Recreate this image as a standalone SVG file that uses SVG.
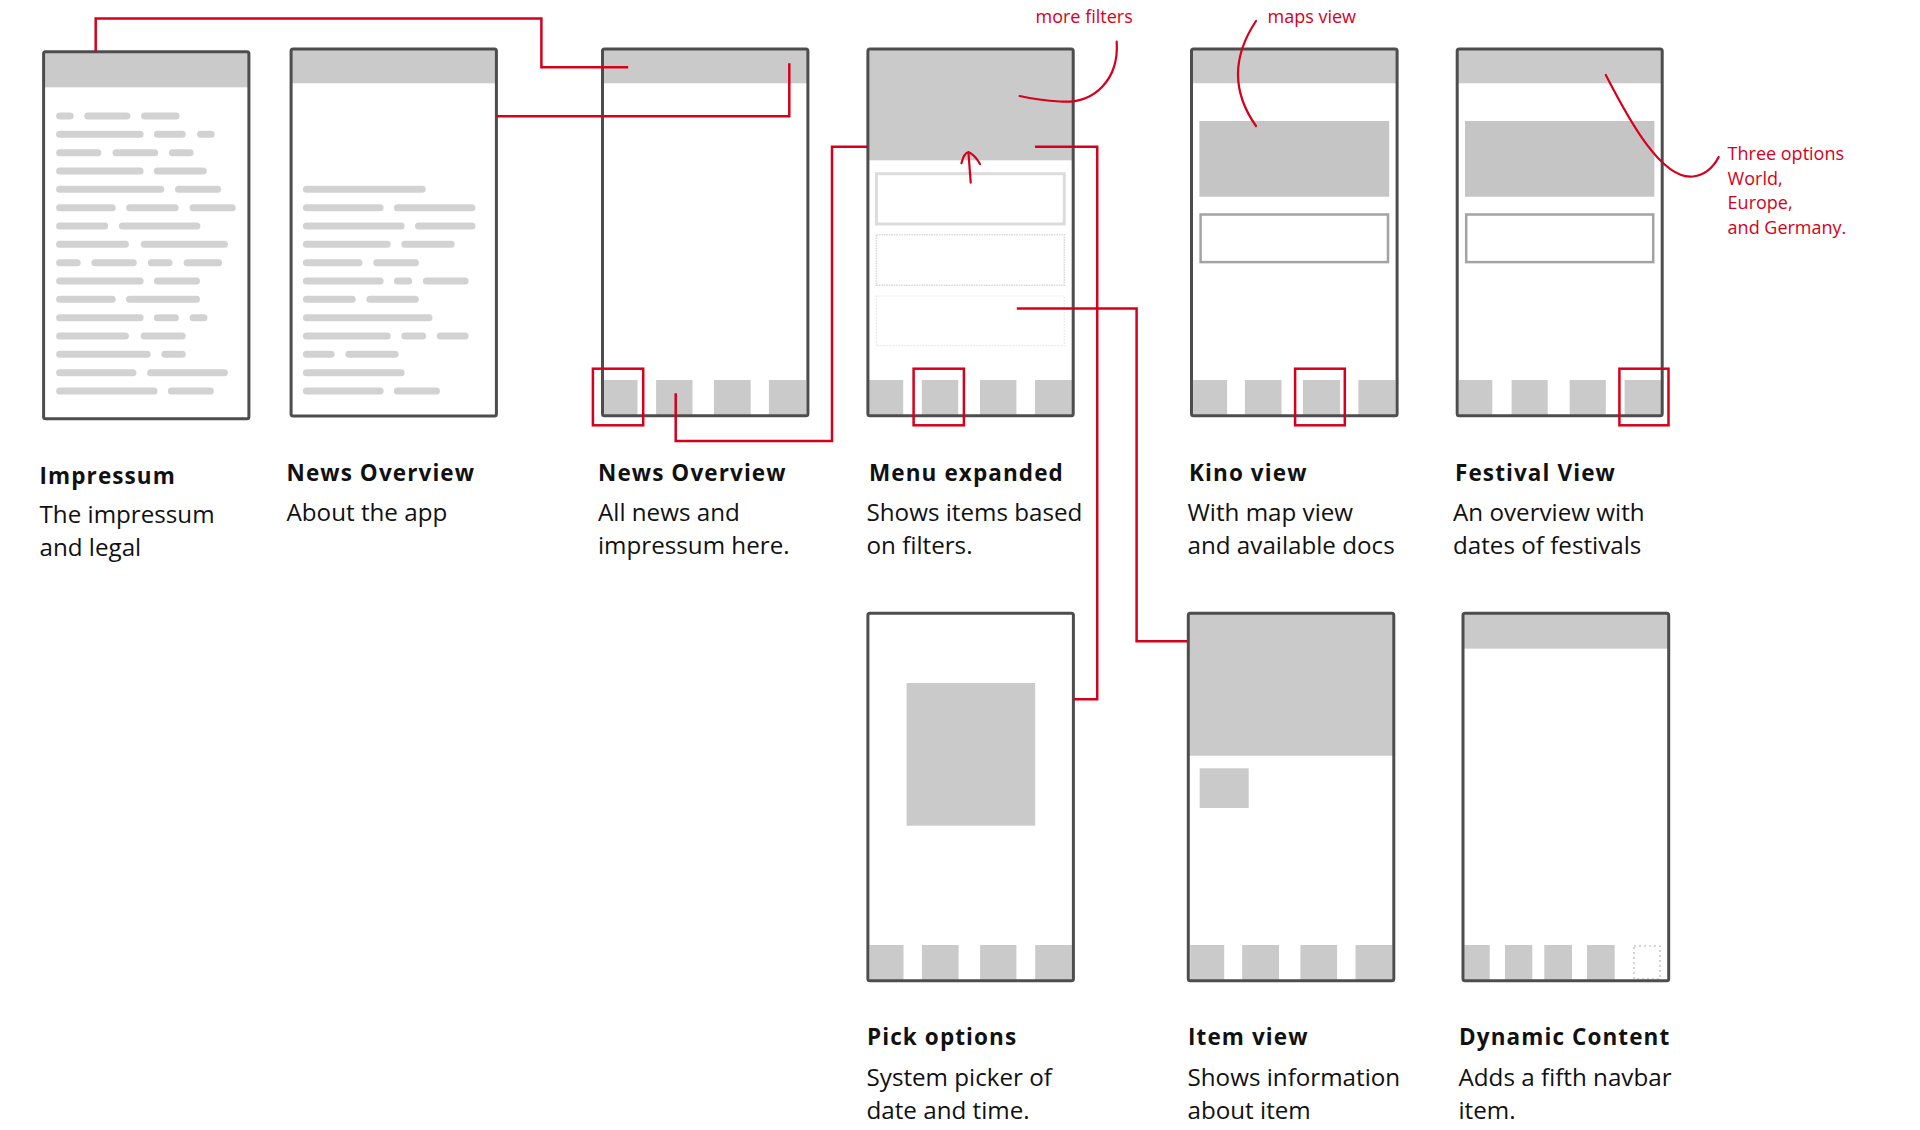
<svg xmlns="http://www.w3.org/2000/svg" width="1920" height="1130" viewBox="0 0 1920 1130">
<style>
.bg{fill:#fff}
.frame{fill:none;stroke:#4d4d4d;stroke-width:3}
.g{fill:#cacaca}
.bar{fill:#d2d2d2}
.hl{fill:none;stroke:#d6001c;stroke-width:2.5}
.con{fill:none;stroke:#d6001c;stroke-width:2.5}
.ink{fill:none;stroke:#d6001c;stroke-width:2.2;stroke-linecap:round;stroke-linejoin:round}
.box{fill:#fff;stroke:#a3a3a3;stroke-width:2.5}
.t{font-family:"Open Sans","Liberation Sans",sans-serif;font-size:22.5px;font-weight:700;letter-spacing:1.1px;fill:#111}
.d{font-family:"Open Sans","Liberation Sans",sans-serif;font-size:24.2px;fill:#111}
.r{font-family:"Open Sans","Liberation Sans",sans-serif;font-size:18px;fill:#d6001c}
</style>
<rect width="1920" height="1130" fill="#fff"/>

<g id="impressum">
<rect class="bg" x="43.6" y="51.7" width="205.3" height="367"/>
<rect class="g" x="43.6" y="51.7" width="205.3" height="35.6"/>
<g class="bar">
<rect x="56.1" y="112.5" width="17.5" height="7" rx="3.5"/><rect x="84.3" y="112.5" width="46.1" height="7" rx="3.5"/><rect x="141.1" y="112.5" width="38.5" height="7" rx="3.5"/>
<rect x="56.1" y="130.8" width="87.5" height="7" rx="3.5"/><rect x="153.9" y="130.8" width="31.8" height="7" rx="3.5"/><rect x="197.1" y="130.8" width="17.5" height="7" rx="3.5"/>
<rect x="56.1" y="149.2" width="45.3" height="7" rx="3.5"/><rect x="112.5" y="149.2" width="45.7" height="7" rx="3.5"/><rect x="168.9" y="149.2" width="24.7" height="7" rx="3.5"/>
<rect x="56.1" y="167.5" width="87.5" height="7" rx="3.5"/><rect x="153.9" y="167.5" width="52.9" height="7" rx="3.5"/>
<rect x="56.1" y="185.8" width="108.2" height="7" rx="3.5"/><rect x="175" y="185.8" width="46.1" height="7" rx="3.5"/>
<rect x="56.1" y="204.2" width="59.6" height="7" rx="3.5"/><rect x="126.1" y="204.2" width="52.5" height="7" rx="3.5"/><rect x="189.6" y="204.2" width="46.1" height="7" rx="3.5"/>
<rect x="56.1" y="222.5" width="52.1" height="7" rx="3.5"/><rect x="118.9" y="222.5" width="81.5" height="7" rx="3.5"/>
<rect x="56.1" y="240.8" width="72.8" height="7" rx="3.5"/><rect x="140.7" y="240.8" width="87.2" height="7" rx="3.5"/>
<rect x="56.1" y="259.2" width="24.6" height="7" rx="3.5"/><rect x="91.4" y="259.2" width="45.4" height="7" rx="3.5"/><rect x="147.9" y="259.2" width="24.6" height="7" rx="3.5"/><rect x="183.6" y="259.2" width="38.5" height="7" rx="3.5"/>
<rect x="56.1" y="277.5" width="87.5" height="7" rx="3.5"/><rect x="153.9" y="277.5" width="46.1" height="7" rx="3.5"/>
<rect x="56.1" y="295.8" width="59.6" height="7" rx="3.5"/><rect x="126.1" y="295.8" width="73.9" height="7" rx="3.5"/>
<rect x="56.1" y="314.2" width="87.5" height="7" rx="3.5"/><rect x="153.9" y="314.2" width="25" height="7" rx="3.5"/><rect x="189.6" y="314.2" width="17.9" height="7" rx="3.5"/>
<rect x="56.1" y="332.5" width="72.8" height="7" rx="3.5"/><rect x="140.7" y="332.5" width="45" height="7" rx="3.5"/>
<rect x="56.1" y="350.8" width="94.6" height="7" rx="3.5"/><rect x="161.4" y="350.8" width="24.3" height="7" rx="3.5"/>
<rect x="56.1" y="369.2" width="80.3" height="7" rx="3.5"/><rect x="147.1" y="369.2" width="80.8" height="7" rx="3.5"/>
<rect x="56.1" y="387.5" width="101.4" height="7" rx="3.5"/><rect x="167.9" y="387.5" width="46" height="7" rx="3.5"/>
</g>
<rect class="frame" x="43.6" y="51.7" width="205.3" height="367" rx="2"/>
<text class="t" x="39.5" y="484">Impressum</text>
<text class="d" x="39.5" y="522.7">The impressum</text>
<text class="d" x="39.5" y="556.2">and legal</text>
</g>

<g id="news-about">
<rect class="bg" x="291.1" y="49" width="205.3" height="367"/>
<rect class="g" x="291.1" y="49" width="205.3" height="34.3"/>
<g class="bar">
<rect x="302.9" y="185.8" width="122.8" height="7" rx="3.5"/>
<rect x="302.9" y="204.2" width="80.7" height="7" rx="3.5"/><rect x="393.9" y="204.2" width="81.5" height="7" rx="3.5"/>
<rect x="302.9" y="222.5" width="101.7" height="7" rx="3.5"/><rect x="415" y="222.5" width="60.4" height="7" rx="3.5"/>
<rect x="302.9" y="240.8" width="87.8" height="7" rx="3.5"/><rect x="401.4" y="240.8" width="53.2" height="7" rx="3.5"/>
<rect x="302.9" y="259.2" width="59.6" height="7" rx="3.5"/><rect x="373.2" y="259.2" width="45.7" height="7" rx="3.5"/>
<rect x="302.9" y="277.5" width="80.7" height="7" rx="3.5"/><rect x="393.9" y="277.5" width="18.2" height="7" rx="3.5"/><rect x="422.9" y="277.5" width="45.7" height="7" rx="3.5"/>
<rect x="302.9" y="295.8" width="52.8" height="7" rx="3.5"/><rect x="366.4" y="295.8" width="52.5" height="7" rx="3.5"/>
<rect x="302.9" y="314.2" width="129.6" height="7" rx="3.5"/>
<rect x="302.9" y="332.5" width="87.8" height="7" rx="3.5"/><rect x="401.4" y="332.5" width="24.7" height="7" rx="3.5"/><rect x="436.8" y="332.5" width="31.8" height="7" rx="3.5"/>
<rect x="302.9" y="350.8" width="31.7" height="7" rx="3.5"/><rect x="345.4" y="350.8" width="53.2" height="7" rx="3.5"/>
<rect x="302.9" y="369.2" width="101.7" height="7" rx="3.5"/>
<rect x="302.9" y="387.5" width="80.7" height="7" rx="3.5"/><rect x="393.9" y="387.5" width="46.1" height="7" rx="3.5"/>
</g>
<rect class="frame" x="291.1" y="49" width="205.3" height="367" rx="2"/>
<text class="t" x="286.5" y="480.7">News Overview</text>
<text class="d" x="286.5" y="520.7">About the app</text>
</g>

<g id="news-overview">
<rect class="bg" x="602.5" y="49" width="205.4" height="366.7"/>
<rect class="g" x="602.5" y="49" width="205.4" height="34.3"/>
<rect class="g" x="603.6" y="380" width="33.9" height="35.7"/>
<rect class="g" x="656.1" y="380" width="36.4" height="35.7"/>
<rect class="g" x="713.9" y="380" width="36.8" height="35.7"/>
<rect class="g" x="768.9" y="380" width="37.2" height="35.7"/>
<rect class="frame" x="602.5" y="49" width="205.4" height="366.7" rx="2"/>
<rect class="hl" x="592.9" y="368.7" width="50.3" height="56.6"/>
<text class="t" x="598" y="480.7">News Overview</text>
<text class="d" x="598" y="520.7">All news and</text>
<text class="d" x="598" y="553.7">impressum here.</text>
</g>

<g id="menu-expanded">
<rect class="bg" x="867.9" y="49" width="205.3" height="366.7"/>
<rect class="g" x="867.9" y="49" width="205.3" height="111.3"/>
<rect x="876.4" y="173.7" width="187.9" height="50.3" fill="none" stroke="#dcdcdc" stroke-width="3"/>
<rect x="876.4" y="234.7" width="187.9" height="50.6" fill="none" stroke="#d8d8d8" stroke-width="1.6" stroke-dasharray="1.5 1"/>
<rect x="876.4" y="296" width="187.9" height="49.7" fill="none" stroke="#e4e4e4" stroke-width="1.2" stroke-dasharray="1.5 1.5"/>
<rect class="g" x="868.9" y="380" width="34.3" height="35.7"/>
<rect class="g" x="921.8" y="380" width="36.4" height="35.7"/>
<rect class="g" x="980" y="380" width="36.4" height="35.7"/>
<rect class="g" x="1035" y="380" width="37.1" height="35.7"/>
<rect class="frame" x="867.9" y="49" width="205.3" height="366.7" rx="2"/>
<rect class="hl" x="913.6" y="368.7" width="50.3" height="56.6"/>
<path class="ink" d="M970.7,182.7 L968.4,152 M961.4,163.3 Q964,153 968.4,152 Q975,155 980,164"/>
<text class="r" x="1035.5" y="23">more filters</text>
<path class="ink" d="M1116.7,41.7 C1119,78 1096,104 1060,101.5 C1043,100.5 1031,98.5 1019.6,96"/>
<text class="t" x="869" y="480.7">Menu expanded</text>
<text class="d" x="866.5" y="520.7">Shows items based</text>
<text class="d" x="866.5" y="553.7">on filters.</text>
</g>

<g id="kino-view">
<rect class="bg" x="1191.5" y="49" width="205.6" height="366.7"/>
<rect class="g" x="1191.5" y="49" width="205.6" height="34.3"/>
<rect x="1199.4" y="121" width="189.8" height="75.7" fill="#c5c5c5"/>
<rect class="box" x="1200.6" y="214.5" width="187.4" height="47.6"/>
<rect class="g" x="1193.1" y="380" width="34" height="35.7"/>
<rect class="g" x="1244.9" y="380" width="36.6" height="35.7"/>
<rect class="g" x="1302.9" y="380" width="37.2" height="35.7"/>
<rect class="g" x="1358.4" y="380" width="37.1" height="35.7"/>
<rect class="frame" x="1191.5" y="49" width="205.6" height="366.7" rx="2"/>
<rect class="hl" x="1295.1" y="368.7" width="49.7" height="56.6"/>
<text class="r" x="1267.5" y="23">maps view</text>
<path class="ink" d="M1256,21 Q1220,75 1256,126"/>
<text class="t" x="1189" y="480.7">Kino view</text>
<text class="d" x="1187.5" y="520.7">With map view</text>
<text class="d" x="1187.5" y="553.7">and available docs</text>
</g>

<g id="festival-view">
<rect class="bg" x="1457.2" y="49" width="205" height="366.7"/>
<rect class="g" x="1457.2" y="49" width="205" height="34.3"/>
<rect x="1465" y="121" width="189.4" height="75.7" fill="#c5c5c5"/>
<rect class="box" x="1466.2" y="214.5" width="187" height="47.6"/>
<rect class="g" x="1458.8" y="380" width="33.5" height="35.7"/>
<rect class="g" x="1511.6" y="380" width="36.1" height="35.7"/>
<rect class="g" x="1569.7" y="380" width="36.1" height="35.7"/>
<rect class="g" x="1624.6" y="380" width="36.6" height="35.7"/>
<rect class="frame" x="1457.2" y="49" width="205" height="366.7" rx="2"/>
<rect class="hl" x="1619.4" y="368.7" width="49.1" height="56.6"/>
<path class="ink" d="M1605.8,75 C1630,122 1662,180 1693,176.5 C1705,175 1713,168 1718.7,157"/>
<text class="r"><tspan x="1727.6" y="160">Three options</tspan><tspan x="1727.6" y="184.5">World,</tspan><tspan x="1727.6" y="209">Europe,</tspan><tspan x="1727.6" y="233.5">and Germany.</tspan></text>
<text class="t" x="1455" y="480.7">Festival View</text>
<text class="d" x="1453" y="520.7">An overview with</text>
<text class="d" x="1453" y="553.7">dates of festivals</text>
</g>

<g id="pick-options">
<rect class="bg" x="867.9" y="613.3" width="205.5" height="367.4"/>
<rect class="g" x="906.6" y="683" width="128.6" height="142.7"/>
<rect class="g" x="869.5" y="945" width="34" height="35.7"/>
<rect class="g" x="921.9" y="945" width="36.7" height="35.7"/>
<rect class="g" x="980.1" y="945" width="36.3" height="35.7"/>
<rect class="g" x="1035.2" y="945" width="36.7" height="35.7"/>
<rect class="frame" x="867.9" y="613.3" width="205.5" height="367.4" rx="2"/>
<text class="t" x="867" y="1045">Pick options</text>
<text class="d" x="866.5" y="1085.5">System picker of</text>
<text class="d" x="866.5" y="1118.5">date and time.</text>
</g>

<g id="item-view">
<rect class="bg" x="1188.3" y="613.3" width="205.5" height="367.4"/>
<rect class="g" x="1188.3" y="613.3" width="205.5" height="142.4"/>
<rect class="g" x="1199.7" y="768.3" width="49" height="39.7"/>
<rect class="g" x="1190.2" y="945" width="34" height="35.7"/>
<rect class="g" x="1242.2" y="945" width="36.8" height="35.7"/>
<rect class="g" x="1300.4" y="945" width="36.7" height="35.7"/>
<rect class="g" x="1355.5" y="945" width="36.7" height="35.7"/>
<rect class="frame" x="1188.3" y="613.3" width="205.5" height="367.4" rx="2"/>
<text class="t" x="1188" y="1045">Item view</text>
<text class="d" x="1187.5" y="1085.5">Shows information</text>
<text class="d" x="1187.5" y="1118.5">about item</text>
</g>

<g id="dynamic-content">
<rect class="bg" x="1463" y="613.3" width="205.7" height="367.4"/>
<rect class="g" x="1463" y="613.3" width="205.7" height="35.4"/>
<rect class="g" x="1464.3" y="945" width="25.4" height="35.7"/>
<rect class="g" x="1505" y="945" width="27.3" height="35.7"/>
<rect class="g" x="1544.3" y="945" width="27.7" height="35.7"/>
<rect class="g" x="1587" y="945" width="27.7" height="35.7"/>
<rect x="1634" y="946" width="26" height="33" fill="none" stroke="#c8c8c8" stroke-width="1.6" stroke-dasharray="2 3"/>
<rect class="frame" x="1463" y="613.3" width="205.7" height="367.4" rx="2"/>
<text class="t" x="1459" y="1045">Dynamic Content</text>
<text class="d" x="1458.5" y="1085.5">Adds a fifth navbar</text>
<text class="d" x="1458.5" y="1118.5">item.</text>
</g>

<g id="connectors">
<path class="con" d="M95.7,52 V18.4 H541.4 V67.3 H628.2"/>
<path class="con" d="M496.4,116.3 H789.3 V63.3"/>
<path class="con" d="M675.7,393.3 V441 H832 V146.7 H868"/>
<path class="con" d="M1035,146.7 H1097.2 V699.3 H1074"/>
<path class="con" d="M1016.8,308.6 H1136.6 V641.3 H1187.5"/>
</g>
</svg>
